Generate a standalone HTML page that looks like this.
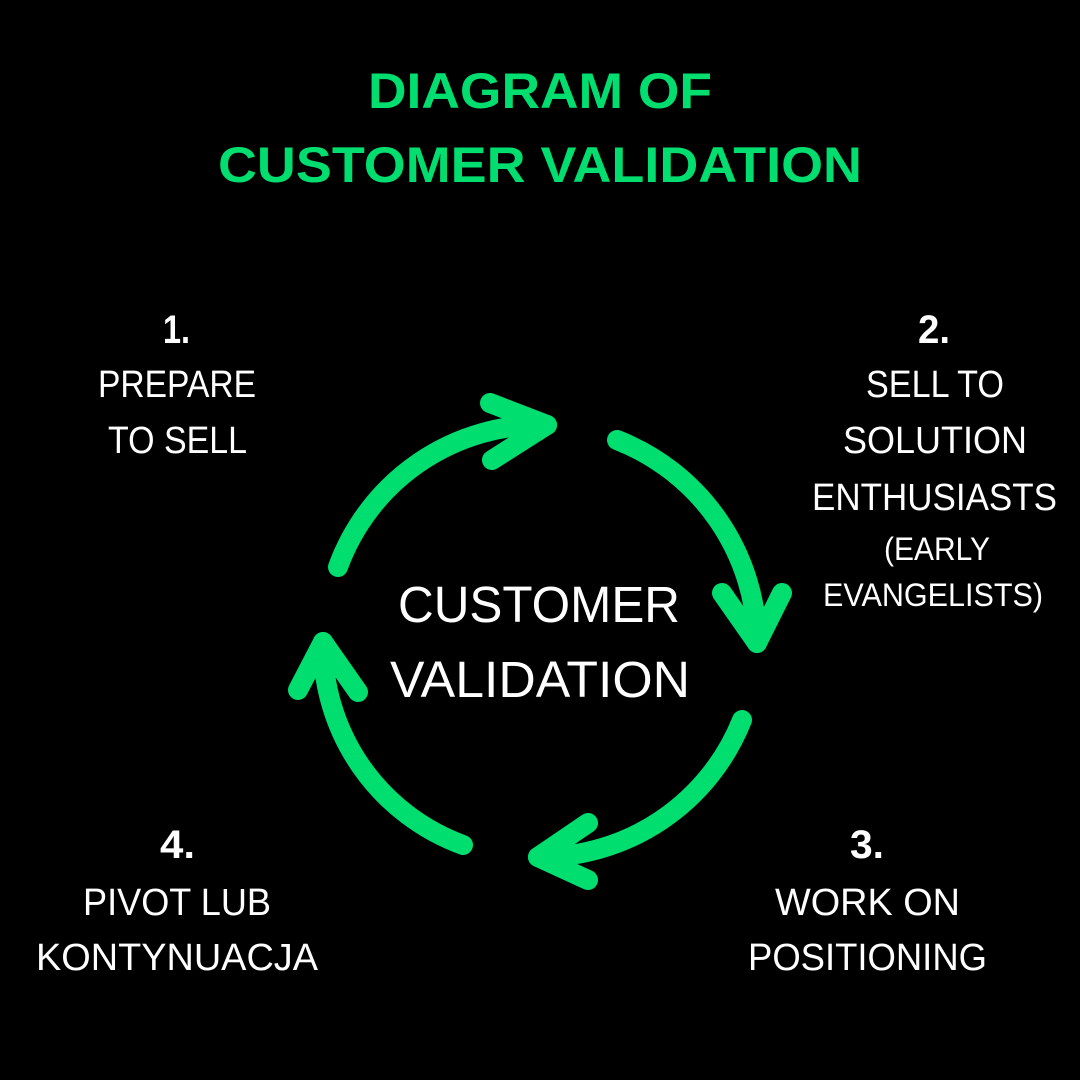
<!DOCTYPE html>
<html><head><meta charset="utf-8"><style>html,body{margin:0;padding:0;background:#000}svg{display:block}</style></head>
<body>
<svg width="1080" height="1080" viewBox="0 0 1080 1080" xmlns="http://www.w3.org/2000/svg">
<rect width="1080" height="1080" fill="#000"/>
<g fill="none" stroke="#00DE6F" stroke-width="20" stroke-linecap="round" stroke-linejoin="round">
<path d="M338 567 A216 216 0 0 1 547 425"/>
<path d="M490 403 L547 425 L492 460"/>
<path d="M617 440 A220 220 0 0 1 757 643"/>
<path d="M722 593 L757 643 L782 593"/>
<path d="M742 720 A217 217 0 0 1 538 857"/>
<path d="M588 823 L538 857 L588 880"/>
<path d="M463 845 A213 213 0 0 1 323 642"/>
<path d="M298 690 L323 642 L358 692"/>
</g>
<g font-family="Liberation Sans, sans-serif" font-weight="bold" fill="#00DE6F" font-size="50">
<text x="368" y="108" textLength="344" lengthAdjust="spacingAndGlyphs">DIAGRAM OF</text>
<text x="218" y="182" textLength="644" lengthAdjust="spacingAndGlyphs">CUSTOMER VALIDATION</text>
</g>
<g font-family="Liberation Sans, sans-serif" fill="#fff">
<text x="398" y="622" font-size="51" textLength="282" lengthAdjust="spacingAndGlyphs">CUSTOMER</text>
<text x="390" y="697" font-size="51" textLength="300" lengthAdjust="spacingAndGlyphs">VALIDATION</text>
<g font-weight="bold" font-size="40">
<text x="163" y="343" textLength="27" lengthAdjust="spacingAndGlyphs">1.</text>
<text x="918" y="343" textLength="32" lengthAdjust="spacingAndGlyphs">2.</text>
<text x="850" y="858" textLength="34" lengthAdjust="spacingAndGlyphs">3.</text>
<text x="160" y="858" textLength="35" lengthAdjust="spacingAndGlyphs">4.</text>
</g>
<g font-size="38">
<text x="98" y="397" textLength="158" lengthAdjust="spacingAndGlyphs">PREPARE</text>
<text x="108" y="453" textLength="139" lengthAdjust="spacingAndGlyphs">TO SELL</text>
<text x="866" y="397" textLength="138" lengthAdjust="spacingAndGlyphs">SELL TO</text>
<text x="843" y="453" textLength="184" lengthAdjust="spacingAndGlyphs">SOLUTION</text>
<text x="812" y="510" textLength="245" lengthAdjust="spacingAndGlyphs">ENTHUSIASTS</text>
<text x="775" y="915" textLength="185" lengthAdjust="spacingAndGlyphs">WORK ON</text>
<text x="748" y="970" textLength="239" lengthAdjust="spacingAndGlyphs">POSITIONING</text>
<text x="83" y="915" textLength="188" lengthAdjust="spacingAndGlyphs">PIVOT LUB</text>
<text x="36" y="970" textLength="282" lengthAdjust="spacingAndGlyphs">KONTYNUACJA</text>
</g>
<g font-size="32">
<text x="884" y="560" textLength="106" lengthAdjust="spacingAndGlyphs">(EARLY</text>
<text x="823" y="606" textLength="220" lengthAdjust="spacingAndGlyphs">EVANGELISTS)</text>
</g>
</g>
</svg>
</body></html>
